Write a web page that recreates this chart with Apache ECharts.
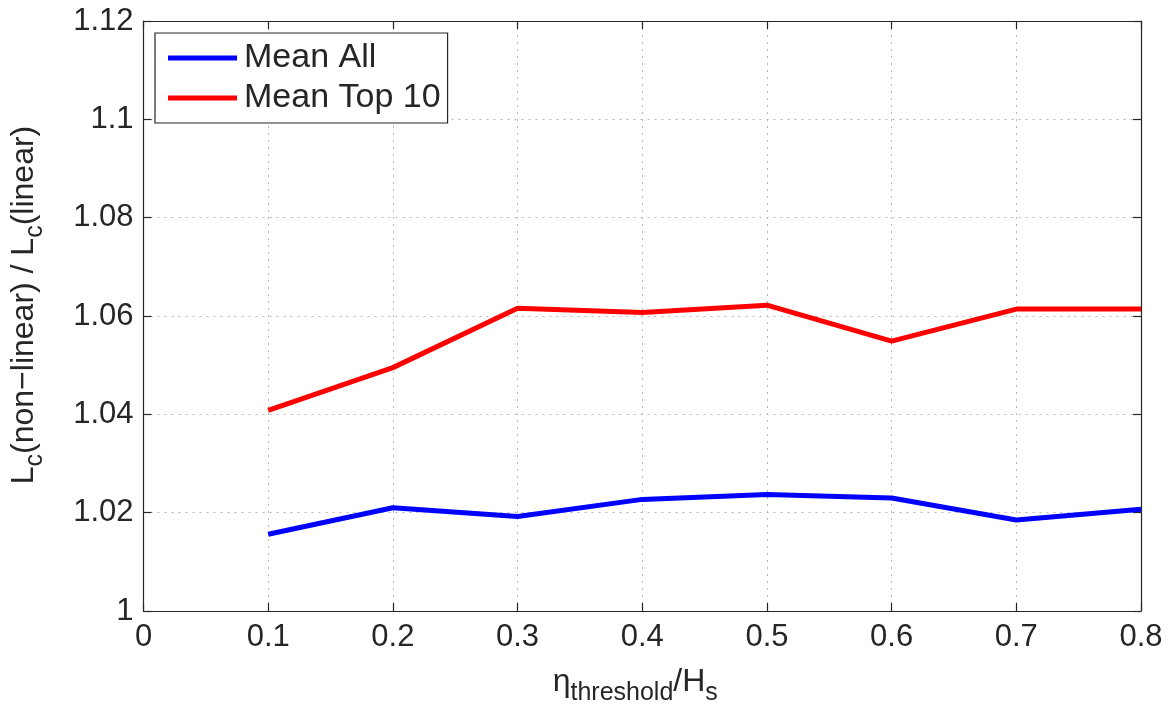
<!DOCTYPE html>
<html>
<head>
<meta charset="utf-8">
<script src="https://cdn.jsdelivr.net/npm/echarts@6/dist/echarts.min.js"></script>
<style>
  html, body { margin: 0; padding: 0; background: #fff; }
  #chart { width: 1172px; height: 713px; }
</style>
</head>
<body>
<div id="chart"></div>
<script>
// threshold ratio values on the x axis
const thresholds = [0.1, 0.2, 0.3, 0.4, 0.5, 0.6, 0.7, 0.8];
// ratio of non-linear to linear crest length
const meanAll = [1.0156, 1.0210, 1.0192, 1.0227, 1.0237, 1.0230, 1.0185, 1.0207];
const meanTop10 = [1.0408, 1.0495, 1.0616, 1.0607, 1.0622, 1.0549, 1.0614, 1.0614];
const seriesNames = ['Mean All', 'Mean Top 10'];
const seriesColors = ['#0000ff', '#ff0000'];

const FONT = 'Liberation Sans, Arial, Helvetica, sans-serif';
const INK = '#262626';
const TICK_FONT = 31;

function yLabel(v) {
  return String(parseFloat(v.toFixed(2)));
}
function xLabel(v) {
  return String(parseFloat(v.toFixed(1)));
}

const gridLine = { show: true, lineStyle: { color: '#b8b8b8', type: [2, 5], width: 1 } };
const axisLineStyle = { show: true, onZero: false, lineStyle: { color: INK, width: 1.2 } };
const tickStyle = { show: true, inside: true, length: 8, lineStyle: { color: INK, width: 1.2 } };

// main text plus lowered subscripts
const rich = {
  m: { fontSize: 32, fontFamily: FONT, color: INK },
  s: { fontSize: 25, fontFamily: FONT, color: INK, padding: [22, 0, 0, 0] }
};

const chart = echarts.init(document.getElementById('chart'), null, { renderer: 'canvas' });
chart.setOption({
  animation: false,
  backgroundColor: '#ffffff',
  grid: { left: 143, right: 31, top: 21, bottom: 102, containLabel: false },
  legend: {
    orient: 'vertical',
    left: 155,
    top: 33,
    data: seriesNames,
    icon: 'rect',
    itemWidth: 69,
    itemHeight: 5,
    itemGap: 6,
    padding: [8, 7, 8, 13],
    backgroundColor: '#ffffff',
    borderColor: INK,
    borderWidth: 1.2,
    textStyle: { fontSize: 34, fontFamily: FONT, color: INK, padding: [0, 0, 0, 2] }
  },
  xAxis: [{
    type: 'value', min: 0, max: 0.8, interval: 0.1,
    position: 'bottom',
    axisLine: axisLineStyle,
    axisTick: tickStyle,
    axisLabel: { fontSize: TICK_FONT, fontFamily: FONT, color: INK, margin: 11, formatter: xLabel },
    splitLine: gridLine,
    name: '{m|η}{s|threshold}{m|/H}{s|s}',
    nameLocation: 'middle',
    nameGap: 48,
    nameTextStyle: { rich: rich, padding: [0, 14, 0, 0] }
  }, {
    type: 'value', min: 0, max: 0.8, interval: 0.1,
    position: 'top',
    axisLine: axisLineStyle,
    axisTick: tickStyle,
    axisLabel: { show: false },
    splitLine: { show: false }
  }],
  yAxis: [{
    type: 'value', min: 1, max: 1.12, interval: 0.02,
    position: 'left',
    axisLine: axisLineStyle,
    axisTick: tickStyle,
    axisLabel: { fontSize: TICK_FONT, fontFamily: FONT, color: INK, margin: 10, formatter: yLabel },
    splitLine: gridLine,
    name: '{m|L}{s|c}{m|(non−linear) / L}{s|c}{m|(linear)}',
    nameLocation: 'middle',
    nameGap: 96,
    nameRotate: 90,
    nameTextStyle: { rich: rich, padding: [0, 0, 0, 22] }
  }, {
    type: 'value', min: 1, max: 1.12, interval: 0.02,
    position: 'right',
    axisLine: axisLineStyle,
    axisTick: tickStyle,
    axisLabel: { show: false },
    splitLine: { show: false }
  }],
  series: [
    {
      name: seriesNames[0], type: 'line',
      data: thresholds.map((x, i) => [x, meanAll[i]]),
      showSymbol: false, symbol: 'none',
      lineStyle: { color: seriesColors[0], width: 5 },
      itemStyle: { color: seriesColors[0] },
      z: 3
    },
    {
      name: seriesNames[1], type: 'line',
      data: thresholds.map((x, i) => [x, meanTop10[i]]),
      showSymbol: false, symbol: 'none',
      lineStyle: { color: seriesColors[1], width: 5 },
      itemStyle: { color: seriesColors[1] },
      z: 3
    }
  ]
});
</script>
</body>
</html>
